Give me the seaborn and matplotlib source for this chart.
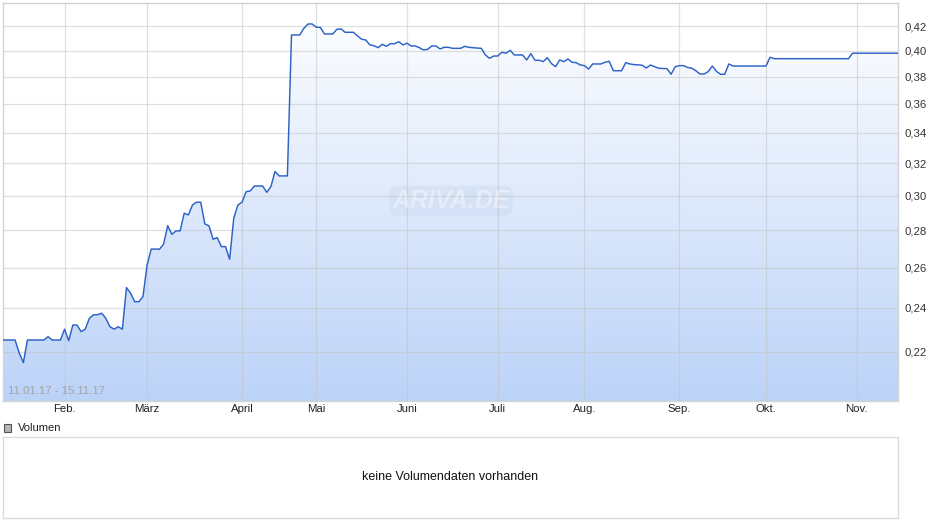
import numpy as np
import pandas as pd
import seaborn as sns
import matplotlib.pyplot as plt
from matplotlib.colors import LinearSegmentedColormap
from matplotlib.patches import Rectangle
from matplotlib.ticker import FixedLocator, NullLocator

# Handelstage 11.01.17 - 15.11.17 (ohne Karfreitag, Ostermontag, 1. Mai)
feiertage = ["2017-04-14", "2017-04-17", "2017-05-01"]
tage = pd.bdate_range("2017-01-11", "2017-11-15")
tage = tage[~tage.isin(pd.to_datetime(feiertage))]

kurs_jan = [0.2252, 0.2252, 0.2252, 0.2252, 0.2195, 0.2153, 0.2252, 0.2252,
            0.2252, 0.2252, 0.2252, 0.2267, 0.2252, 0.2252, 0.2252]
kurs_feb = [0.2301, 0.2249, 0.2320, 0.2320, 0.2290, 0.2301, 0.2351, 0.2368,
            0.2368, 0.2375, 0.2351, 0.2312, 0.2301, 0.2312, 0.2301, 0.2499,
            0.2471, 0.2430, 0.2430, 0.2455]
kurs_mar = [0.2614, 0.2698, 0.2698, 0.2697, 0.2725, 0.2826, 0.2778, 0.2797,
            0.2797, 0.2897, 0.2887, 0.2945, 0.2961, 0.2961, 0.2836, 0.2825,
            0.2751, 0.2760, 0.2711, 0.2711, 0.2644, 0.2868, 0.2945]
kurs_apr = [0.2961, 0.3024, 0.3028, 0.3058, 0.3058, 0.3058, 0.3020, 0.3054,
            0.3147, 0.3120, 0.3120, 0.3120, 0.4128, 0.4128, 0.4128, 0.4183,
            0.4219, 0.4219]
kurs_mai = [0.4192, 0.4190, 0.4136, 0.4136, 0.4136, 0.4175, 0.4178, 0.4150,
            0.4150, 0.4150, 0.4120, 0.4093, 0.4087, 0.4047, 0.4041, 0.4025,
            0.4052, 0.4036, 0.4057, 0.4057, 0.4073, 0.4047]
kurs_jun = [0.4061, 0.4039, 0.4039, 0.4025, 0.4007, 0.4012, 0.4039, 0.4039,
            0.4015, 0.4028, 0.4028, 0.4020, 0.4020, 0.4020, 0.4036, 0.4028,
            0.4025, 0.4022, 0.4020, 0.3967, 0.3941, 0.3959]
kurs_jul = [0.3959, 0.3989, 0.3981, 0.4004, 0.3967, 0.3967, 0.3967, 0.3928,
            0.3978, 0.3926, 0.3926, 0.3915, 0.3946, 0.3900, 0.3876, 0.3928,
            0.3915, 0.3936, 0.3910, 0.3907, 0.3889]
kurs_aug = [0.3884, 0.3858, 0.3897, 0.3897, 0.3897, 0.3910, 0.3918, 0.3845,
            0.3845, 0.3845, 0.3907, 0.3897, 0.3892, 0.3890, 0.3887, 0.3866,
            0.3889, 0.3876, 0.3864, 0.3862, 0.3861, 0.3818, 0.3876]
kurs_sep = [0.3884, 0.3884, 0.3870, 0.3864, 0.3845, 0.3820, 0.3820, 0.3838,
            0.3881, 0.3840, 0.3818, 0.3818, 0.3897, 0.3881, 0.3881, 0.3881,
            0.3881, 0.3881, 0.3881, 0.3881, 0.3881]
kurs_okt = [0.3881, 0.3949, 0.3938, 0.3938, 0.3938, 0.3938, 0.3938, 0.3938,
            0.3938, 0.3938, 0.3938, 0.3938, 0.3938, 0.3938, 0.3938, 0.3938,
            0.3938, 0.3938, 0.3938, 0.3938, 0.3938, 0.3981]
kurs_nov = [0.3981, 0.3981, 0.3981, 0.3981, 0.3981, 0.3981, 0.3981, 0.3981,
            0.3981, 0.3981, 0.3981]

kurs = (kurs_jan + kurs_feb + kurs_mar + kurs_apr + kurs_mai + kurs_jun
        + kurs_jul + kurs_aug + kurs_sep + kurs_okt + kurs_nov)

monate = ["Feb.", "März", "April", "Mai", "Juni", "Juli", "Aug.", "Sep.", "Okt.", "Nov."]
y_ticks = [0.22, 0.24, 0.26, 0.28, 0.30, 0.32, 0.34, 0.36, 0.38, 0.40, 0.42]

df = pd.DataFrame({"Datum": tage, "Kurs": kurs})
df["pos"] = np.arange(len(df))
monat_start = df.groupby(df.Datum.dt.month)["pos"].first().loc[2:11].values

sns.set_theme(style="white")
plt.rcParams["font.family"] = ["Liberation Sans", "DejaVu Sans"]

W, H = 940, 526
fig = plt.figure(figsize=(9.4, 5.26), dpi=100)
fig.patch.set_facecolor("white")

# Kurschart
ax = fig.add_axes([2.7 / W, 1 - 401 / H, (898 - 2.7) / W, (401 - 3.3) / H])
ax.set_yscale("log")
y_lo, y_hi = 0.1995, 0.4396

sns.lineplot(data=df, x="pos", y="Kurs", ax=ax, color="#2c62c6", linewidth=1.05, zorder=4)

poly = ax.fill_between(df.pos, df.Kurs, 0.15, color="none", linewidth=0)
cmap = LinearSegmentedColormap.from_list("verlauf", ["#bcd3f8", "#ffffff"])
grad = np.linspace(0, 1, 256).reshape(-1, 1)
im = ax.imshow(grad, extent=[0, 1, 0, 1], transform=ax.transAxes, aspect="auto",
               cmap=cmap, origin="lower", zorder=1, interpolation="bilinear")
im.set_clip_path(poly.get_paths()[0], transform=ax.transData)

ax.set_xlim(0, len(df) - 1)
ax.set_ylim(y_lo, y_hi)
ax.set_xlabel("")
ax.set_ylabel("")

ax.yaxis.tick_right()
ax.yaxis.set_major_locator(FixedLocator(y_ticks))
ax.yaxis.set_minor_locator(NullLocator())
ax.set_yticklabels([f"{v:.2f}".replace(".", ",") for v in y_ticks])
ax.set_xticks(monat_start)
ax.set_xticklabels(monate)
ax.tick_params(axis="y", length=0, pad=5, labelsize=8.2, labelcolor="#333333")
ax.tick_params(axis="x", length=0, pad=2, labelsize=8.2, labelcolor="#222222")

ax.grid(True, color="#c2c2c2", alpha=0.5, linewidth=0.9, zorder=2)
ax.set_axisbelow(False)
for s in ax.spines.values():
    s.set_color("#d4d4d4")
    s.set_linewidth(1)

ax.text(0.006, 0.012, "11.01.17 - 15.11.17", transform=ax.transAxes,
        color="#a3a3a3", fontsize=8.2, ha="left", va="bottom", zorder=5)

ax.text(0.5007, 0.503, "ARIVA.DE", transform=ax.transAxes, ha="center", va="center",
        fontsize=18, fontstyle="italic", fontweight="bold", color="white", alpha=0.4,
        zorder=3,
        bbox=dict(boxstyle="round,pad=0.12,rounding_size=0.35", facecolor="#9fb3d6",
                  edgecolor="none", alpha=0.13))

# Volumen
fig.add_artist(Rectangle((4 / W, 1 - 432 / H), 7 / W, 8 / H, transform=fig.transFigure,
                         facecolor="#b5b5b5", edgecolor="#555555", linewidth=0.8))
fig.text(18 / W, 1 - 428 / H, "Volumen", fontsize=8, color="#222222", va="center", ha="left")

axv = fig.add_axes([3 / W, 1 - 518 / H, 895 / W, 81 / H])
axv.set_xticks([])
axv.set_yticks([])
for s in axv.spines.values():
    s.set_color("#dcdcdc")
    s.set_linewidth(1)
axv.text(0.5, 0.5, "keine Volumendaten vorhanden", transform=axv.transAxes,
         ha="center", va="center", fontsize=9, color="#111111")

fig.savefig("out.png", dpi=100, facecolor="white")
